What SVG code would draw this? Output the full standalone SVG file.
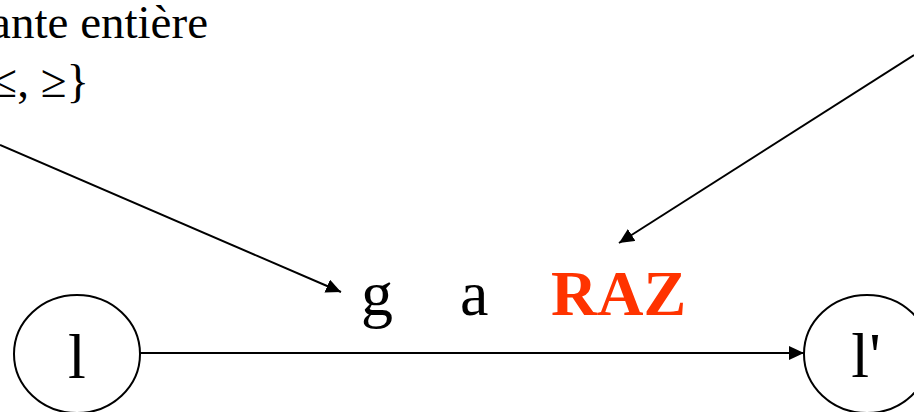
<svg xmlns="http://www.w3.org/2000/svg" width="914" height="412" viewBox="0 0 914 412">
<style>
text{font-family:"Liberation Serif","Times New Roman",serif;fill:#000}
.big{font-size:64px}
.note{font-size:47px}
.raz{font-weight:bold;fill:#FF3300}
.node{fill:#fff;stroke:#000;stroke-width:2}
.conn{stroke:#000;stroke-width:2;fill:none;marker-end:url(#ah)}
</style>
<defs>
<marker id="ah" viewBox="0 0 15 14" refX="15" refY="7" markerWidth="15" markerHeight="14" orient="auto" markerUnits="userSpaceOnUse">
<path d="M0,0 L15,7 L0,14 z" fill="#000"/>
</marker>
</defs>
<g id="labels">
<text class="note" x="208" y="38" text-anchor="end">ante entière</text>
<text class="note" x="89" y="97" text-anchor="end">≤, ≥}</text>
<text class="big" x="361" y="315">g</text>
<text class="big" x="460" y="315">a</text>
<text class="big raz" x="551" y="315">RAZ</text>
</g>
<g id="connectors">
<line class="conn" x1="140" y1="353" x2="804" y2="353"/>
<line class="conn" x1="0" y1="145" x2="341" y2="292"/>
<line class="conn" x1="914" y1="55" x2="619" y2="243"/>
</g>
<g id="node-l">
<ellipse class="node" cx="77" cy="354" rx="63" ry="59"/>
<text class="big" x="77" y="378" text-anchor="middle">l</text>
</g>
<g id="node-l-prime">
<ellipse class="node" cx="867" cy="354" rx="63" ry="59"/>
<text class="big" x="866" y="377" text-anchor="middle">l'</text>
</g>
</svg>
